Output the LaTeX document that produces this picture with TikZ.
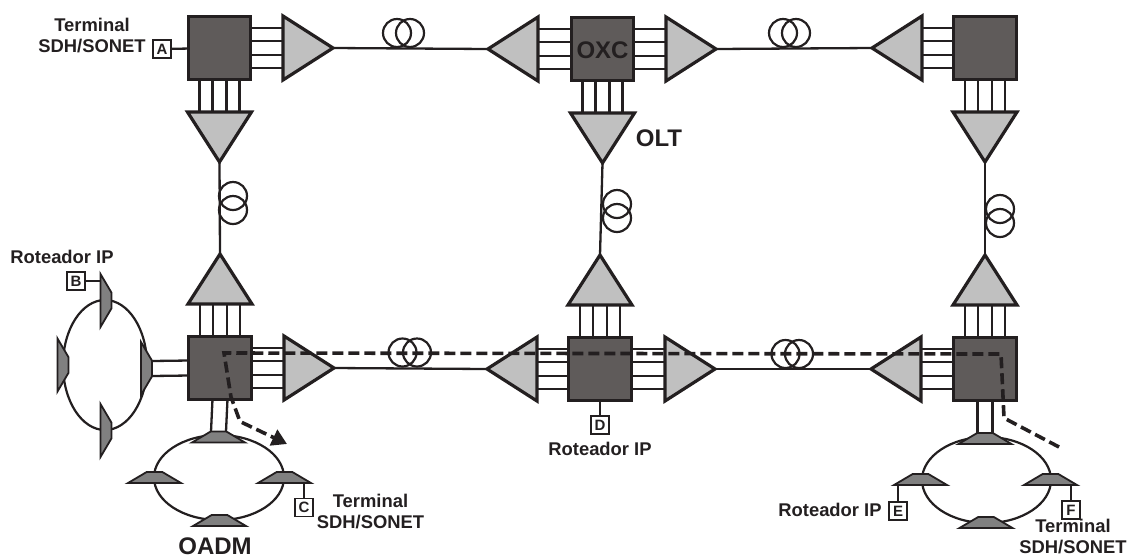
\documentclass[tikz,border=0pt]{standalone}
\usepackage{fontspec}
\setmainfont{Liberation Sans}
\usepackage{xcolor}
\usetikzlibrary{shapes.geometric,arrows.meta}
\definecolor{boxgray}{HTML}{5F5B5A}
\definecolor{ampgray}{HTML}{C0C0C0}
\definecolor{addgray}{HTML}{808080}
\definecolor{inkblack}{HTML}{231F20}
\tikzset{
    oxc/.style={rectangle, draw=inkblack, fill=boxgray, line width=3pt, minimum size=62.5pt, inner sep=0pt, outer sep=0pt},
    amp/.style={isosceles triangle, isosceles triangle apex angle=66, isosceles triangle stretches, draw=inkblack, fill=ampgray, line width=3.2pt, minimum width=64pt, minimum height=50pt, inner sep=0pt, outer sep=0pt, anchor=apex},
    add/.style={trapezium, trapezium left angle=40, trapezium right angle=40, trapezium stretches, draw=inkblack, fill=addgray, line width=1.8pt, minimum width=53pt, minimum height=11pt, inner sep=1pt, outer sep=0pt},
    ring/.style={ellipse, draw=inkblack, line width=2.2pt, inner sep=0pt, outer sep=0pt},
    coil/.style={circle, draw=inkblack, line width=2.2pt, minimum size=28pt, inner sep=0pt, outer sep=0pt},
    tag/.style={rectangle, draw=inkblack, fill=white, line width=1.6pt, minimum size=18pt, inner sep=0pt, outer sep=0pt, text=inkblack, font=\fontsize{15}{15}\selectfont\bfseries},
    lbl/.style={text=inkblack, align=center, inner sep=0pt, font=\fontsize{18.4}{21}\selectfont\bfseries},
    big/.style={text=inkblack, inner sep=0pt, font=\fontsize{24}{24}\selectfont\bfseries},
    fib/.style={draw=inkblack, line width=2.3pt},
    path/.style={draw=inkblack, line width=3.6pt, dash pattern=on 11pt off 5pt}
}
\begin{document}
\begin{tikzpicture}[x=1pt, y=-1pt]
    \useasboundingbox (0, 0) rectangle (1129, 558);
    \node[oxc] (oxca) at (219.5, 48) {};
    \node[oxc] (oxcb) at (602.5, 49) {};
    \node[oxc] (oxcc) at (985, 48) {};
    \node[oxc] (oxcd) at (220, 368) {};
    \node[oxc] (oxce) at (600, 369) {};
    \node[oxc] (oxcf) at (985, 369) {};
    \node[amp, shape border rotate=0] (ampa) at (333, 48) {};
    \node[amp, shape border rotate=180] (ampb) at (488, 49) {};
    \node[amp, shape border rotate=0] (ampc) at (716, 49) {};
    \node[amp, shape border rotate=180] (ampd) at (872, 48) {};
    \node[amp, shape border rotate=270] (ampe) at (219.5, 162) {};
    \node[amp, shape border rotate=270] (ampf) at (602.5, 163) {};
    \node[amp, shape border rotate=270] (ampg) at (985, 162) {};
    \node[amp, shape border rotate=90] (amph) at (220, 254) {};
    \node[amp, shape border rotate=90] (ampi) at (600, 255) {};
    \node[amp, shape border rotate=90] (ampj) at (985, 255) {};
    \node[amp, shape border rotate=0] (ampk) at (334, 368) {};
    \node[amp, shape border rotate=180] (ampl) at (487, 369) {};
    \node[amp, shape border rotate=0] (ampm) at (715, 369) {};
    \node[amp, shape border rotate=180] (ampn) at (871, 369) {};
    \foreach \a/\b in {oxca/ampa, oxcb/ampc, oxcd/ampk, oxce/ampm} {
        \foreach \d in {-20, -7, 7, 20} {
            \draw [fib] ([yshift=\d pt]\a.east) to ([yshift=\d pt]\b.lower side);
        }
    }
    \foreach \a/\b in {oxcb/ampb, oxcc/ampd, oxce/ampl, oxcf/ampn} {
        \foreach \d in {-20, -7, 7, 20} {
            \draw [fib] ([yshift=\d pt]\a.west) to ([yshift=\d pt]\b.lower side);
        }
    }
    \foreach \a/\b in {oxca/ampe, oxcb/ampf, oxcc/ampg} {
        \foreach \d in {-20, -7, 7, 20} {
            \draw [fib] ([xshift=\d pt]\a.south) to ([xshift=\d pt]\b.lower side);
        }
    }
    \foreach \a/\b in {oxcd/amph, oxce/ampi, oxcf/ampj} {
        \foreach \d in {-20, -7, 7, 20} {
            \draw [fib] ([xshift=\d pt]\a.north) to ([xshift=\d pt]\b.lower side);
        }
    }
    \draw [fib] (ampa.apex) to (ampb.apex);
    \draw [fib] (ampc.apex) to (ampd.apex);
    \draw [fib] (ampe.apex) to (amph.apex);
    \draw [fib] (ampf.apex) to (ampi.apex);
    \draw [fib] (ampg.apex) to (ampj.apex);
    \draw [fib] (ampk.apex) to (ampl.apex);
    \draw [fib] (ampm.apex) to (ampn.apex);
    \node[coil] (coila) at (397, 33) {};
    \node[coil] (coilb) at (410, 33) {};
    \node[coil] (coilc) at (783, 33) {};
    \node[coil] (coild) at (796, 33) {};
    \node[coil] (coile) at (233, 196) {};
    \node[coil] (coilf) at (233, 210) {};
    \node[coil] (coilg) at (617, 204) {};
    \node[coil] (coilh) at (617, 218) {};
    \node[coil] (coili) at (1000, 209) {};
    \node[coil] (coilj) at (1000, 223) {};
    \node[coil] (coilk) at (402.5, 352.5) {};
    \node[coil] (coill) at (417, 352.5) {};
    \node[coil] (coilm) at (785.5, 354) {};
    \node[coil] (coiln) at (799, 354) {};
    \node[ring, minimum width=84pt, minimum height=130pt] (ringa) at (105, 365) {};
    \node[ring, minimum width=130pt, minimum height=85pt] (ringb) at (219, 477.5) {};
    \node[ring, minimum width=129pt, minimum height=86pt] (ringc) at (986.5, 480) {};
    \node[add, rotate=-90] (adda) at (106, 300.5) {};
    \node[add, rotate=-90] (addb) at (63, 365) {};
    \node[add, rotate=-90] (addc) at (146.5, 368.5) {};
    \node[add, rotate=-90] (addd) at (106, 430.5) {};
    \node[add] (adde) at (218.5, 437) {};
    \node[add] (addf) at (154.5, 477.5) {};
    \node[add] (addg) at (284.5, 477.5) {};
    \node[add] (addh) at (219.5, 520.5) {};
    \node[add] (addi) at (985, 438.5) {};
    \node[add] (addj) at (920.5, 479.5) {};
    \node[add] (addk) at (1050.5, 479.5) {};
    \node[add] (addl) at (986, 522.5) {};
    \draw [fib] ([yshift=7.5pt]addc.north) to ([yshift=7.5pt]oxcd.west);
    \draw [fib] ([yshift=-7.5pt]addc.north) to ([yshift=-7.5pt]oxcd.west);
    \draw [fib] ([xshift=-7.5pt]adde.north) to ([xshift=-7.5pt]oxcd.south);
    \draw [fib] ([xshift=7.5pt]adde.north) to ([xshift=7.5pt]oxcd.south);
    \draw [fib] ([xshift=-7.5pt]addi.north) to ([xshift=-7.5pt]oxcf.south);
    \draw [fib] ([xshift=7.5pt]addi.north) to ([xshift=7.5pt]oxcf.south);
    \node[tag] (taga) at (162, 49) {A};
    \node[tag] (tagb) at (76, 281) {B};
    \node[tag] (tagc) at (304, 507.5) {C};
    \node[tag] (tagd) at (600, 425) {D};
    \node[tag] (tage) at (898, 511) {E};
    \node[tag] (tagf) at (1071, 510) {F};
    \draw [fib] (taga) to (oxca);
    \draw [fib] (tagb.east) to (100, 281);
    \draw [fib] (tagc.north) to (304, 483);
    \draw [fib] (tagd) to (oxce);
    \draw [fib] (tage.north) to (898, 485);
    \draw [fib] (tagf.north) to (1071, 485);
    \node[lbl] (terma) at (92, 36) {Terminal\\SDH/SONET};
    \node[lbl] (termc) at (370.5, 512) {Terminal\\SDH/SONET};
    \node[lbl] (termf) at (1073, 537) {Terminal\\SDH/SONET};
    \node[lbl] (ipb) at (62, 257) {Roteador IP};
    \node[lbl] (ipd) at (600, 449) {Roteador IP};
    \node[lbl] (ipe) at (830, 510) {Roteador IP};
    \node[big] (oxcname) at (602.5, 50) {OXC};
    \node[big] (oltname) at (659, 138) {OLT};
    \node[big] (oadmname) at (215, 546.5) {OADM};
    \coordinate (wa) at (1059, 447);
    \coordinate (wb) at (1004, 418);
    \coordinate (wc) at (1001, 354);
    \coordinate (wd) at (224, 353);
    \coordinate (we) at (231, 397);
    \coordinate (wf) at (240, 421.5);
    \coordinate (wg) at (287, 444);
    \draw [path, -{Triangle[length=15pt, width=17pt]}] (wa) to (wb) to (wc) to (wd) to (we) to (wf) to (wg);
\end{tikzpicture}
\end{document}
